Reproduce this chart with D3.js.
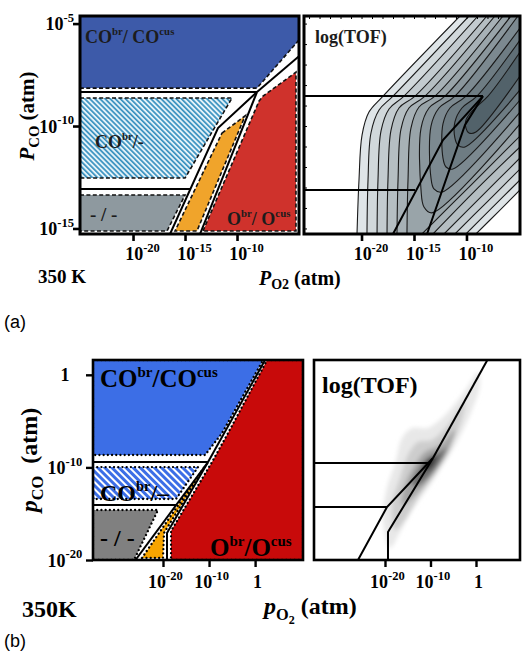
<!DOCTYPE html>
<html><head><meta charset="utf-8">
<script src="https://cdn.jsdelivr.net/npm/d3@7"></script>
<style>body{margin:0;background:#fff}svg{display:block}</style>
</head><body>
<svg id="c" width="522" height="663"></svg>
<script>
// ---------------- DATA (log10 of pressures in atm) ----------------
// (a) phase diagram regions
const aBlue   = [[-25.1,-4.63],[-4.04,-4.63],[-4.04,-5.8],[-8.08,-8.15],[-25.1,-8.15]];
const aHatch  = [[-25.1,-8.63],[-10.48,-8.63],[-15,-12.54],[-25.1,-12.54]];
const aGray   = [[-25.1,-13.37],[-15,-13.37],[-16.73,-15.12],[-25.1,-15.12]];
const aOrange = [[-11.44,-10.34],[-9.23,-9.51],[-13.85,-15.12],[-15.96,-15.12]];
const aRed    = [[-13.27,-15.12],[-7.88,-8.78],[-7.5,-8.54],[-4.33,-7.37],[-4.33,-15.12]];
// (a) phase boundaries
const aLineH1  = [[-25.1,-8.34],[-8.08,-8.34]];
const aLineTop = [[-8.08,-8.34],[-4.04,-6.59]];
const aLineA   = [[-8.08,-8.34],[-11.83,-10.10],[-16.44,-15.27]];
const aLineB   = [[-8.08,-8.34],[-13.56,-15.27]];
const aLineH2  = [[-25.1,-13.07],[-14.48,-13.07]];
// (a) TOF panel boundary overlay
const aTofH1 = [[-25.48,-8.54],[-8.43,-8.54]];
const aTofH2 = [[-25.48,-13.12],[-14.9,-13.12]];
const aTofL1 = [[-8.43,-8.54],[-12.24,-10.68],[-17.0,-15.27]];
const aTofL2 = [[-8.43,-8.54],[-10.14,-9.95],[-13.76,-15.27]];
// (a) log(TOF) contours, outer levels: left branch (bottom -> top edge)
const tofLeft = [
  [[-20.43,-15.27],[-20.24,-12.63],[-19.95,-10.44],[-19.29,-9.32],[-17.95,-8.54],[-10.62,-4.63]],
  [[-19.48,-15.27],[-19.38,-12.63],[-19.10,-10.34],[-18.33,-9.22],[-17.0,-8.54],[-9.76,-4.63]],
  [[-18.52,-15.27],[-18.43,-12.63],[-18.14,-10.24],[-17.38,-9.17],[-15.95,-8.54],[-8.90,-4.63]],
  [[-17.57,-15.27],[-17.48,-12.63],[-17.19,-10.20],[-16.43,-9.12],[-14.90,-8.54],[-8.05,-4.63]],
  [[-16.62,-15.27],[-16.52,-12.63],[-16.24,-10.15],[-15.48,-9.12],[-13.95,-8.54],[-7.29,-4.63]],
  [[-15.67,-15.27],[-15.57,-12.63],[-15.29,-10.10],[-14.52,-9.07],[-13.0,-8.54],[-6.52,-4.63]]
];
// outer levels: right branch (bottom edge -> right edge)
const tofRight = [
  [[-9.10,-15.27],[-7.0,-14.20],[-4.9,-13.12]],
  [[-10.05,-15.27],[-7.48,-13.95],[-4.9,-12.63]],
  [[-11.10,-15.27],[-8.05,-13.71],[-4.9,-12.10]],
  [[-12.14,-15.27],[-8.52,-13.41],[-4.9,-11.56]],
  [[-13.19,-15.27],[-9.10,-13.12],[-4.9,-11.02]],
  [[-14.24,-15.27],[-9.57,-12.88],[-4.9,-10.49]]
];
// inner levels: U-shaped contours around the TOF ridge
const tofInner = [
  [[-5.76,-4.63],[-12.05,-8.54],[-13.57,-9.12],[-14.33,-10.10],[-14.33,-13.12],[-14.05,-13.95],[-13.29,-14.24],[-4.9,-9.90]],
  [[-5.10,-4.63],[-11.10,-8.54],[-12.62,-9.12],[-13.38,-10.0],[-13.38,-12.54],[-13.10,-13.07],[-12.33,-13.22],[-4.9,-9.32]],
  [[-4.9,-5.22],[-10.05,-8.54],[-11.57,-9.12],[-12.24,-9.90],[-12.24,-11.56],[-11.95,-12.0],[-11.29,-12.10],[-4.9,-8.73]],
  [[-4.9,-5.80],[-9.0,-8.54],[-10.43,-9.12],[-11.10,-9.80],[-11.10,-10.59],[-10.81,-10.93],[-10.14,-11.02],[-4.9,-8.24]],
  [[-4.9,-6.39],[-7.95,-8.54],[-9.38,-9.22],[-10.05,-9.71],[-10.05,-10.10],[-9.76,-10.34],[-9.10,-10.29],[-4.9,-7.56]]
];
// (b) phase diagram regions
const bBlue   = [[-35.2,1.6],[1.74,1.6],[-7.17,-6.29],[-10.87,-8.66],[-35.2,-8.66]];
const bHatch  = [[-35.2,-9.96],[-12.39,-9.96],[-17.17,-13.41],[-35.2,-13.41]];
const bGray   = [[-35.2,-14.6],[-21.09,-14.6],[-26.3,-20],[-35.2,-20]];
const bOrange = [[-24.57,-19.78],[-10.87,-9.85],[-19.78,-17.08],[-20.0,-19.78]];
const bRed    = [[2.61,1.6],[10.4,1.6],[10.4,-20],[-18.26,-20],[-18.26,-16.87],[-9.35,-9.42],[-5.87,-6.29]];
// (b) phase boundaries
const bLineTop = [[2.17,1.6],[-10.22,-9.42]];
const bLineL   = [[-10.22,-9.42],[-25.98,-20]];
const bLineR   = [[-10.22,-9.42],[-19.13,-17.08],[-19.13,-20]];
const bLineH1  = [[-35.2,-9.42],[-10.22,-9.42]];
const bLineH2  = [[-35.2,-14.06],[-17.17,-14.06]];
// (b) TOF panel overlay
const bTofTop = [[2.5,1.6],[-9.45,-8.98]];
const bTofA   = [[-9.45,-8.98],[-19.56,-14.28],[-25.93,-20]];
const bTofB   = [[-9.45,-8.98],[-19.34,-16.98],[-19.34,-20]];
const bTofH1  = [[-35.6,-9.53],[-10.48,-9.53]];
const bTofH2  = [[-35.6,-14.28],[-19.56,-14.28]];
// (b) log(TOF) shaded levels (outer -> inner)
const bTofLevels = [
  [[-18.90,-18.70],[-20.44,-15.68],[-19.78,-12.66],[-17.58,-9.20],[-16.26,-6.83],[-14.07,-5.75],[-10.55,-5.75],[-7.47,-4.67],[-4.62,-3.15],[-1.98,-1.43],[0.44,0.30],[0.88,-1.10],[-0.88,-3.80],[-3.96,-7.04],[-6.81,-9.42],[-10.11,-11.90],[-14.07,-14.60],[-16.70,-16.98]],
  [[-17.80,-16.76],[-18.46,-14.06],[-16.70,-11.14],[-14.95,-8.66],[-12.75,-7.26],[-9.67,-7.04],[-6.15,-5.42],[-2.42,-2.94],[-3.52,-5.42],[-6.15,-8.12],[-8.79,-10.50],[-12.31,-12.98],[-15.60,-15.68]],
  [[-16.26,-14.06],[-15.60,-11.90],[-13.41,-9.74],[-11.21,-8.34],[-7.91,-7.58],[-4.62,-5.96],[-5.71,-7.90],[-8.35,-10.06],[-11.21,-11.90],[-14.51,-13.52]],
  [[-14.07,-11.90],[-12.75,-10.28],[-10.55,-8.98],[-7.91,-8.34],[-6.59,-7.90],[-7.91,-9.42],[-10.11,-10.82],[-12.75,-11.90]],
  [[-11.65,-10.06],[-10.55,-9.20],[-8.79,-8.77],[-9.67,-9.85],[-10.99,-10.28]]
];
// ticks
const aTicksY = [-5,-10,-15];
const aTicksX = [-20,-15,-10];
const bTicksY = [0,-10,-20];
const bTicksX = [-20,-10,0];

// ---------------- SCALES ----------------
const axL = d3.scaleLinear().domain([-25.1,-4.04]).range([80,299]);
const ayL = d3.scaleLinear().domain([-15.27,-4.63]).range([234,16]);
const axR = d3.scaleLinear().domain([-25.48,-4.9]).range([304,520]);
const ayR = d3.scaleLinear().domain([-15.27,-4.63]).range([234,16]);
const bxL = d3.scaleLinear().domain([-35.2,10.4]).range([93,303]);
const byL = d3.scaleLinear().domain([-20,1.6]).range([560,360]);
const bxR = d3.scaleLinear().domain([-35.6,9.67]).range([314,520]);
const byR = byL;

const SERIF = "'Liberation Serif','Times New Roman',serif";
const SANS = "'Liberation Sans',Arial,sans-serif";
const svg = d3.select("#c");
const defs = svg.append("defs");

const pA = defs.append("pattern").attr("id","hatchA").attr("patternUnits","userSpaceOnUse")
  .attr("width",3.6).attr("height",3.6).attr("patternTransform","rotate(-45)");
pA.append("rect").attr("width",3.6).attr("height",3.6).attr("fill","#e4f2f8");
pA.append("rect").attr("width",1.7).attr("height",3.6).attr("fill","#3a92c0");
const pB = defs.append("pattern").attr("id","hatchB").attr("patternUnits","userSpaceOnUse")
  .attr("width",5).attr("height",5).attr("patternTransform","rotate(-45)");
pB.append("rect").attr("width",5).attr("height",5).attr("fill","#3c6ee6");
pB.append("rect").attr("width",2).attr("height",5).attr("fill","#ffffff");
defs.append("filter").attr("id","blur").attr("x","-20%").attr("y","-20%").attr("width","140%").attr("height","140%")
  .append("feGaussianBlur").attr("stdDeviation",2.2);

function clip(id, sx, sy){
  defs.append("clipPath").attr("id",id).append("rect")
    .attr("x",sx.range()[0]).attr("y",sy.range()[1])
    .attr("width",sx.range()[1]-sx.range()[0]).attr("height",sy.range()[0]-sy.range()[1]);
}
clip("cAL",axL,ayL); clip("cAR",axR,ayR); clip("cBL",bxL,byL); clip("cBR",bxR,byR);

function gen(sx,sy,curve){ const l=d3.line().x(d=>sx(d[0])).y(d=>sy(d[1])); if(curve) l.curve(curve); return l; }

function rich(g, x, y, parts, o){
  const t = g.append("text").attr("x",x).attr("y",y)
    .attr("font-family",o.family||SERIF).attr("font-weight",o.weight||"bold")
    .attr("font-size",o.size).attr("text-anchor",o.anchor||"start")
    .attr("fill",o.fill||"#000").style("white-space","pre");
  if(o.rotate) t.attr("transform",`rotate(${o.rotate},${x},${y})`);
  let cur=0;
  parts.forEach(p=>{
    const ts=t.append("tspan").text(p.t).attr("font-size",o.size*(p.fs||1));
    const target=(p.shift||0)*o.size;
    if(target!==cur) ts.attr("dy",target-cur);
    cur=target;
    if(p.it) ts.attr("font-style","italic");
  });
  return t;
}
const tickParts = v => v===0 ? [{t:"1"}] : [{t:"10"},{t:String(v),fs:0.7,shift:-0.45}];
const sup = s => ({t:s,fs:0.6,shift:-0.42});

function frame(g,sx,sy,w){
  g.append("rect").attr("x",sx.range()[0]).attr("y",sy.range()[1])
   .attr("width",sx.range()[1]-sx.range()[0]).attr("height",sy.range()[0]-sy.range()[1])
   .attr("fill","none").attr("stroke","#000").attr("stroke-width",w);
}
function yAxis(g,sx,sy,vals,o){
  const a=g.append("g").attr("transform",`translate(${sx.range()[0]},0)`)
    .call(d3.axisLeft(sy).tickValues(vals).tickSize(7).tickFormat(()=>""));
  a.select(".domain").remove();
  a.selectAll(".tick line").attr("stroke","#000").attr("stroke-width",o.sw);
  a.selectAll(".tick").each(function(d){ rich(d3.select(this),o.lx,o.ly,tickParts(d),{size:o.size,anchor:o.anchor}); });
}
function xAxis(g,sx,sy,vals,o){
  const a=g.append("g").attr("transform",`translate(0,${sy.range()[0]})`)
    .call(d3.axisBottom(sx).tickValues(vals).tickSize(7).tickFormat(()=>""));
  a.select(".domain").remove();
  a.selectAll(".tick line").attr("stroke","#000").attr("stroke-width",o.sw);
  a.selectAll(".tick").each(function(d){ rich(d3.select(this),o.lx,o.ly,tickParts(d),{size:o.size,anchor:"middle"}); });
}

// ================= PANEL (a) left =================
{
  const g = svg.append("g");
  const inner = g.append("g").attr("clip-path","url(#cAL)");
  const L = gen(axL,ayL);
  const poly=(pts,fill)=>inner.append("path").attr("d",L(pts)+"Z").attr("fill",fill)
      .attr("stroke","#111").attr("stroke-width",1.6).attr("stroke-dasharray","4,2.4");
  poly(aBlue,"#3d5aa9"); poly(aHatch,"url(#hatchA)"); poly(aGray,"#8e999f");
  poly(aOrange,"#f0a42b"); poly(aRed,"#cf322c");
  [aLineH1,aLineTop,aLineA,aLineB,aLineH2].forEach(p=>inner.append("path").attr("d",L(p))
      .attr("fill","none").attr("stroke","#000").attr("stroke-width",2));
  const f="#1c1c1c";
  rich(g,85,43,[{t:"CO"},sup("br"),{t:"/ CO"},sup("cus")],{size:18,fill:f});
  rich(g,95,148,[{t:"CO"},sup("br"),{t:"/-"}],{size:18,fill:f});
  rich(g,90,221,[{t:"- / -"}],{size:19,fill:f});
  rich(g,227,225,[{t:"O"},sup("br"),{t:"/ O"},sup("cus")],{size:18,fill:f});
  frame(g,axL,ayL,3);
  yAxis(g,axL,ayL,aTicksY,{sw:2.6,lx:-6,ly:6,size:18,anchor:"end"});
  xAxis(g,axL,ayL,aTicksX,{sw:2.6,lx:9,ly:26,size:18});
  rich(g,34,116,[{t:"P",it:true},{t:"CO",fs:0.7,shift:0.22},{t:" (atm)"}],{size:21,anchor:"middle",rotate:-90});
  rich(g,38,283,[{t:"350 K"}],{size:19});
  rich(g,259,285,[{t:"P",it:true},{t:"O2",fs:0.7,shift:0.22},{t:" (atm)"}],{size:20});
  rich(g,4,328,[{t:"(a)"}],{size:18,family:SANS,weight:"normal"});
}

// ================= PANEL (a) right =================
{
  const g = svg.append("g");
  const inner = g.append("g").attr("clip-path","url(#cAR)");
  const C = gen(axR,ayR,d3.curveCatmullRom.alpha(0.5));
  const Lin = gen(axR,ayR);
  const corner = [axR.range()[1], ayR.range()[1]];
  const col = d3.interpolateRgb("#dfe5e8","#52626a");
  const nLev = tofLeft.length + tofInner.length;
  tofLeft.forEach((lp,k)=>{
    const rr = tofRight[k].slice().reverse();
    const d = C(lp) + "L" + corner[0] + "," + corner[1] + C(rr).replace(/^M/,"L") + "Z";
    inner.append("path").attr("d",d).attr("fill",col(k/(nLev-1)));
  });
  tofInner.forEach((np,j)=>{
    let d = C(np);
    if (np[0][1] === ayR.domain()[1]) d += "L" + corner[0] + "," + corner[1];
    d += "Z";
    inner.append("path").attr("d",d).attr("fill",col((tofLeft.length+j)/(nLev-1)));
  });
  const cl = p=>inner.append("path").attr("d",C(p)).attr("fill","none").attr("stroke","#1a1a1a").attr("stroke-width",1.1);
  tofLeft.forEach(cl); tofRight.forEach(cl); tofInner.forEach(cl);
  [aTofH1,aTofH2,aTofL1,aTofL2].forEach(p=>inner.append("path").attr("d",Lin(p))
      .attr("fill","none").attr("stroke","#000").attr("stroke-width",2));
  const mt = g.append("g").attr("transform",`translate(0,${ayR.range()[1]})`)
     .call(d3.axisBottom(axR).tickValues(d3.range(-25,-4)).tickSize(3).tickFormat(()=>""));
  mt.select(".domain").remove(); mt.selectAll("line").attr("stroke","#000").attr("stroke-width",1);
  const ml = g.append("g").attr("transform",`translate(${axR.range()[0]},0)`)
     .call(d3.axisRight(ayR).tickValues(d3.range(-15,-4)).tickSize(3).tickFormat(()=>""));
  ml.select(".domain").remove(); ml.selectAll("line").attr("stroke","#000").attr("stroke-width",1);
  rich(g,315,43,[{t:"log(TOF)"}],{size:18,fill:"#1c1c1c"});
  frame(g,axR,ayR,3);
  xAxis(g,axR,ayR,aTicksX,{sw:2.6,lx:9,ly:26,size:18});
}

// ================= PANEL (b) left =================
{
  const g = svg.append("g");
  const inner = g.append("g").attr("clip-path","url(#cBL)");
  const L = gen(bxL,byL);
  const poly=(pts,fill)=>inner.append("path").attr("d",L(pts)+"Z").attr("fill",fill)
      .attr("stroke","#000").attr("stroke-width",2.3).attr("stroke-dasharray","0.01,4.2").attr("stroke-linecap","round");
  poly(bBlue,"#3c6ee6"); poly(bHatch,"url(#hatchB)"); poly(bGray,"#808080");
  poly(bOrange,"#f7a400"); poly(bRed,"#c80a0a");
  [bLineTop,bLineL,bLineR,bLineH1,bLineH2].forEach(p=>inner.append("path").attr("d",L(p))
      .attr("fill","none").attr("stroke","#000").attr("stroke-width",2));
  rich(g,100,387,[{t:"CO"},sup("br"),{t:"/CO"},sup("cus")],{size:25});
  rich(g,100,501,[{t:"CO"},sup("br"),{t:"/\u2013"}],{size:24});
  rich(g,100,546,[{t:"- / -"}],{size:24});
  rich(g,210,556,[{t:"O"},sup("br"),{t:"/O"},sup("cus")],{size:25});
  frame(g,bxL,byL,2.6);
  yAxis(g,bxL,byL,bTicksY,{sw:2.4,lx:-28,ly:6,size:18,anchor:"middle"});
  xAxis(g,bxL,byL,bTicksX,{sw:2.4,lx:2,ly:28,size:18});
  rich(g,37,460,[{t:"p",it:true},{t:"CO",fs:0.68,shift:0.25},{t:"  (atm)"}],{size:24,anchor:"middle",rotate:-90});
  rich(g,22,617,[{t:"350K"}],{size:24});
  rich(g,264,614,[{t:"p",it:true},{t:"O",fs:0.68,shift:0.25},{t:"2",fs:0.5,shift:0.42},{t:" (atm)"}],{size:24});
  rich(g,4,647,[{t:"(b)"}],{size:18,family:SANS,weight:"normal"});
}

// ================= PANEL (b) right =================
{
  const g = svg.append("g");
  const inner = g.append("g").attr("clip-path","url(#cBR)");
  const Cc = gen(bxR,byR,d3.curveCatmullRomClosed.alpha(0.5));
  const L = gen(bxR,byR);
  const shades = ["#e8e8e8","#cdcdcd","#a4a4a4","#6a6a6a","#2a2a2a"];
  const sm = inner.append("g").attr("filter","url(#blur)");
  bTofLevels.forEach((p,i)=>sm.append("path").attr("d",Cc(p)).attr("fill",shades[i]));
  [bTofTop,bTofA,bTofB,bTofH1,bTofH2].forEach(p=>inner.append("path").attr("d",L(p))
      .attr("fill","none").attr("stroke","#000").attr("stroke-width",2));
  rich(g,322,393,[{t:"log(TOF)"}],{size:24});
  frame(g,bxR,byR,2.6);
  xAxis(g,bxR,byR,bTicksX,{sw:2.4,lx:2,ly:28,size:18});
}
</script>
</body></html>
